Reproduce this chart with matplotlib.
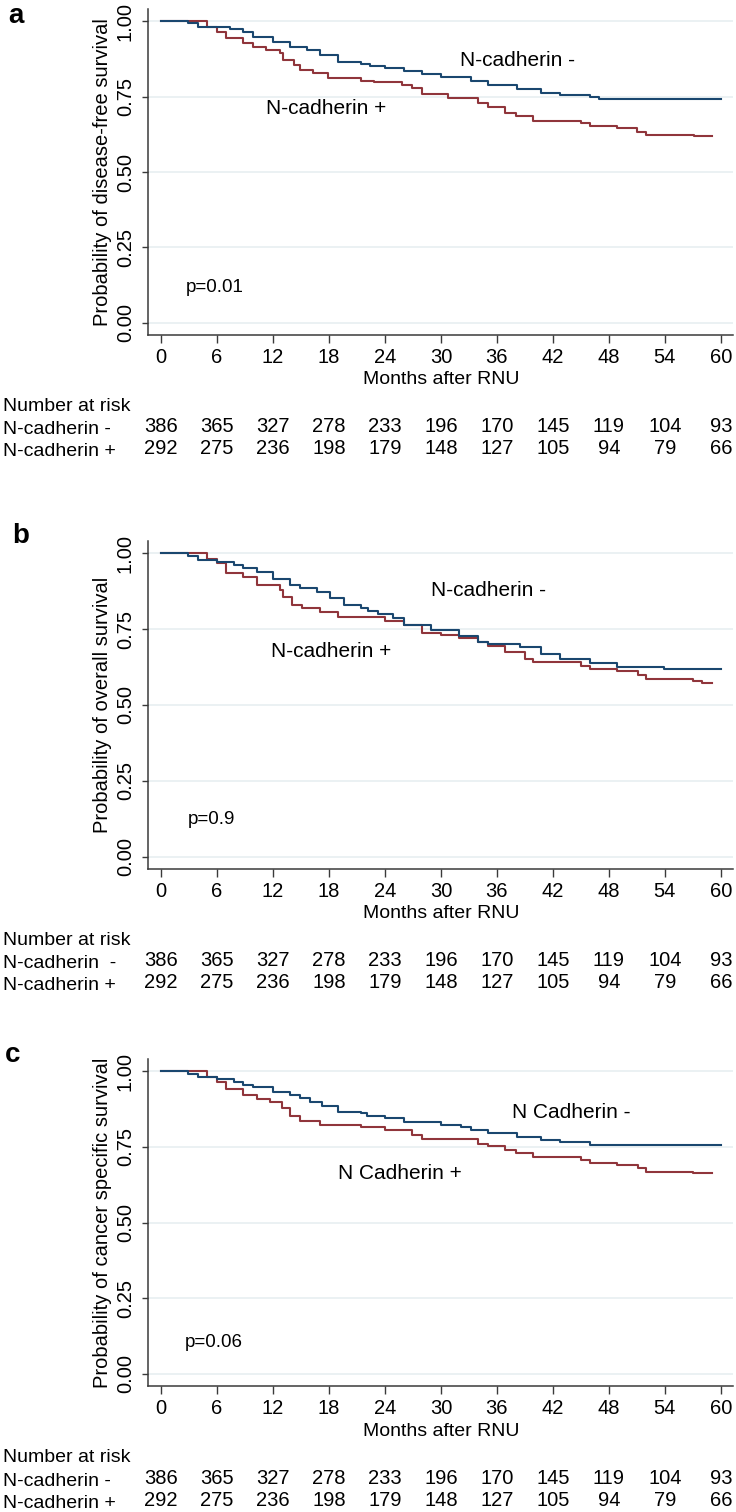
import numpy as np
import matplotlib
matplotlib.use('Agg')
import matplotlib.pyplot as plt
from matplotlib.transforms import blended_transform_factory

plt.rcParams['font.family'] = ['Liberation Sans', 'DejaVu Sans']

W, H = 736, 1512

months = [0, 6, 12, 18, 24, 30, 36, 42, 48, 54, 60]
risk_neg = [386, 365, 327, 278, 233, 196, 170, 145, 119, 104, 93]
risk_pos = [292, 275, 236, 198, 179, 148, 127, 105, 94, 79, 66]

# panel a - disease-free survival
a_neg_t = [0, 2.9, 4.0, 7.4, 8.8, 9.9, 12.0, 13.8, 15.6, 17.0, 19.0, 21.4, 22.4, 24.0, 26.0,
           28.0, 30.0, 33.2, 35.0, 38.2, 40.7, 42.8, 46.0, 46.9, 60.0]
a_neg_s = [1, 0.994, 0.981, 0.975, 0.965, 0.948, 0.932, 0.915, 0.904, 0.887, 0.865, 0.857, 0.850,
           0.843, 0.833, 0.825, 0.814, 0.802, 0.788, 0.774, 0.763, 0.754, 0.749, 0.742, 0.742]
a_pos_t = [0, 4.9, 6.0, 7.0, 8.8, 9.9, 11.3, 12.8, 13.1, 14.2, 14.9, 16.3, 17.9, 21.4, 22.8, 25.8,
           26.9, 28.0, 30.8, 34.0, 35.0, 36.9, 38.0, 39.9, 45.0, 46.0, 48.9, 51.0, 52.0, 57.1, 59.1]
a_pos_s = [1, 0.980, 0.965, 0.943, 0.926, 0.915, 0.904, 0.893, 0.871, 0.854, 0.838, 0.829, 0.810,
           0.803, 0.797, 0.788, 0.777, 0.758, 0.744, 0.727, 0.716, 0.694, 0.685, 0.670, 0.661,
           0.652, 0.645, 0.633, 0.623, 0.619, 0.619]

# panel b - overall survival
b_neg_t = [0, 2.9, 4.0, 6.0, 7.8, 8.8, 10.3, 12.0, 13.8, 14.9, 16.7, 18.1, 19.6, 21.4, 22.2, 23.2,
           24.9, 26.0, 28.9, 31.9, 34.0, 35.0, 38.5, 40.7, 42.8, 46.0, 48.9, 53.9, 60.0]
b_neg_s = [1, 0.990, 0.977, 0.971, 0.961, 0.950, 0.938, 0.916, 0.895, 0.884, 0.873, 0.851, 0.829,
           0.818, 0.810, 0.801, 0.785, 0.763, 0.747, 0.727, 0.708, 0.701, 0.692, 0.668, 0.653,
           0.637, 0.626, 0.620, 0.620]
b_pos_t = [0, 4.9, 6.0, 7.0, 8.8, 10.3, 12.8, 13.1, 14.0, 15.1, 17.0, 19.0, 24.0, 26.0, 28.0, 30.0,
           31.9, 34.0, 35.0, 36.9, 39.0, 39.9, 45.0, 46.0, 48.9, 51.1, 52.0, 57.0, 58.0, 59.1]
b_pos_s = [1, 0.982, 0.966, 0.933, 0.922, 0.895, 0.878, 0.856, 0.829, 0.818, 0.807, 0.790, 0.777,
           0.763, 0.737, 0.730, 0.722, 0.708, 0.695, 0.675, 0.653, 0.640, 0.629, 0.620, 0.612,
           0.599, 0.586, 0.580, 0.573, 0.573]

# panel c - cancer specific survival
c_neg_t = [0, 2.9, 4.0, 6.0, 7.8, 8.8, 9.9, 12.0, 13.8, 14.9, 16.0, 17.3, 19.0, 21.4, 22.1, 24.0,
           26.0, 30.0, 32.1, 33.2, 35.0, 38.2, 40.7, 42.8, 46.0, 60.0]
c_neg_s = [1, 0.992, 0.979, 0.974, 0.965, 0.954, 0.946, 0.932, 0.921, 0.910, 0.899, 0.885, 0.866,
           0.861, 0.852, 0.844, 0.833, 0.822, 0.815, 0.806, 0.795, 0.784, 0.773, 0.765, 0.757, 0.757]
c_pos_t = [0, 4.9, 6.0, 7.0, 8.8, 10.3, 11.7, 13.0, 13.8, 14.9, 17.0, 21.4, 24.0, 26.9, 28.0, 34.0,
           35.0, 36.9, 38.0, 39.9, 45.0, 46.0, 48.9, 51.1, 52.0, 57.0, 59.1]
c_pos_s = [1, 0.981, 0.965, 0.940, 0.921, 0.907, 0.899, 0.877, 0.852, 0.834, 0.822, 0.817, 0.806,
           0.789, 0.775, 0.760, 0.753, 0.740, 0.729, 0.716, 0.707, 0.696, 0.689, 0.680, 0.667,
           0.663, 0.663]

panels = [
    dict(letter='a', top=9, bottom=335, ylabel='Probability of disease-free survival',
         neg=(a_neg_t, a_neg_s), pos=(a_pos_t, a_pos_s),
         neg_lab=('N-cadherin -', 38.2, 0.868), pos_lab=('N-cadherin +', 17.7, 0.712),
         p=('p=0.01', 2.6, 0.116), rows=('N-cadherin -', 'N-cadherin +'),
         letter_xy=(8, 23)),
    dict(letter='b', top=541, bottom=869, ylabel='Probability of overall survival',
         neg=(b_neg_t, b_neg_s), pos=(b_pos_t, b_pos_s),
         neg_lab=('N-cadherin -', 35.1, 0.876), pos_lab=('N-cadherin +', 18.2, 0.675),
         p=('p=0.9', 2.9, 0.122), rows=('N-cadherin  -', 'N-cadherin +'),
         letter_xy=(12, 543)),
    dict(letter='c', top=1059, bottom=1386, ylabel='Probability of cancer specific survival',
         neg=(c_neg_t, c_neg_s), pos=(c_pos_t, c_pos_s),
         neg_lab=('N Cadherin -', 44.0, 0.862), pos_lab=('N Cadherin +', 25.6, 0.663),
         p=('p=0.06', 2.5, 0.105), rows=('N-cadherin -', 'N-cadherin +'),
         letter_xy=(5, 1062)),
]

blue = '#1a476f'
red = '#90353b'
axcol = '#3a3a3a'

def fy(py):
    return 1 - py / H

fig = plt.figure(figsize=(W / 100, H / 100), dpi=100)

for P in panels:
    top, bot = P['top'], P['bottom']
    ax = fig.add_axes([148 / W, fy(bot), (733 - 148) / W, (bot - top) / H])
    ax.set_xlim(-1.4, 61.3)
    ax.set_ylim(-0.04, 1.04)
    for yv in [0, 0.25, 0.5, 0.75, 1.0]:
        ax.axhline(yv, color='#e8eff1', lw=1.2, zorder=0)
    ax.step(P['pos'][0], P['pos'][1], where='post', color=red, lw=1.5)
    ax.step(P['neg'][0], P['neg'][1], where='post', color=blue, lw=1.5)

    for s in ['top', 'right']:
        ax.spines[s].set_visible(False)
    for s in ['left', 'bottom']:
        ax.spines[s].set_color(axcol)
        ax.spines[s].set_linewidth(1.1)
    ax.set_xticks(months)
    ax.set_yticks([0, 0.25, 0.5, 0.75, 1.0])
    ax.set_yticklabels(['0.00', '0.25', '0.50', '0.75', '1.00'], rotation=90, va='center')
    ax.tick_params(axis='x', length=5.5, width=1, color=axcol, labelsize=14.5, pad=4)
    ax.tick_params(axis='y', length=4.5, width=1, color=axcol, labelsize=14.5, pad=5)
    ax.set_ylabel(P['ylabel'], fontsize=14.5, labelpad=3)

    txt, tx, ty = P['neg_lab']
    ax.text(tx, ty, txt, fontsize=15, ha='center', va='center')
    txt, tx, ty = P['pos_lab']
    ax.text(tx, ty, txt, fontsize=15, ha='center', va='center')
    txt, tx, ty = P['p']
    ax.text(tx, ty, txt, fontsize=13.5, ha='left', va='center')

    tr = blended_transform_factory(ax.transData, fig.transFigure)
    ax.text(30, fy(bot + 45), 'Months after RNU', transform=tr, ha='center', va='center', fontsize=14)
    fig.text(3 / W, fy(bot + 71), 'Number at risk', ha='left', va='center', fontsize=14)
    fig.text(3 / W, fy(bot + 95), P['rows'][0], ha='left', va='center', fontsize=14)
    fig.text(3 / W, fy(bot + 117), P['rows'][1], ha='left', va='center', fontsize=14)
    for m, n1, n2 in zip(months, risk_neg, risk_pos):
        ax.text(m, fy(bot + 92), str(n1), transform=tr, ha='center', va='center', fontsize=14.5)
        ax.text(m, fy(bot + 114), str(n2), transform=tr, ha='center', va='center', fontsize=14.5)

    lx, ly = P['letter_xy']
    fig.text(lx / W, fy(ly), P['letter'], fontsize=20, fontweight='bold', ha='left', va='baseline')

fig.savefig('out.png', dpi=100)
